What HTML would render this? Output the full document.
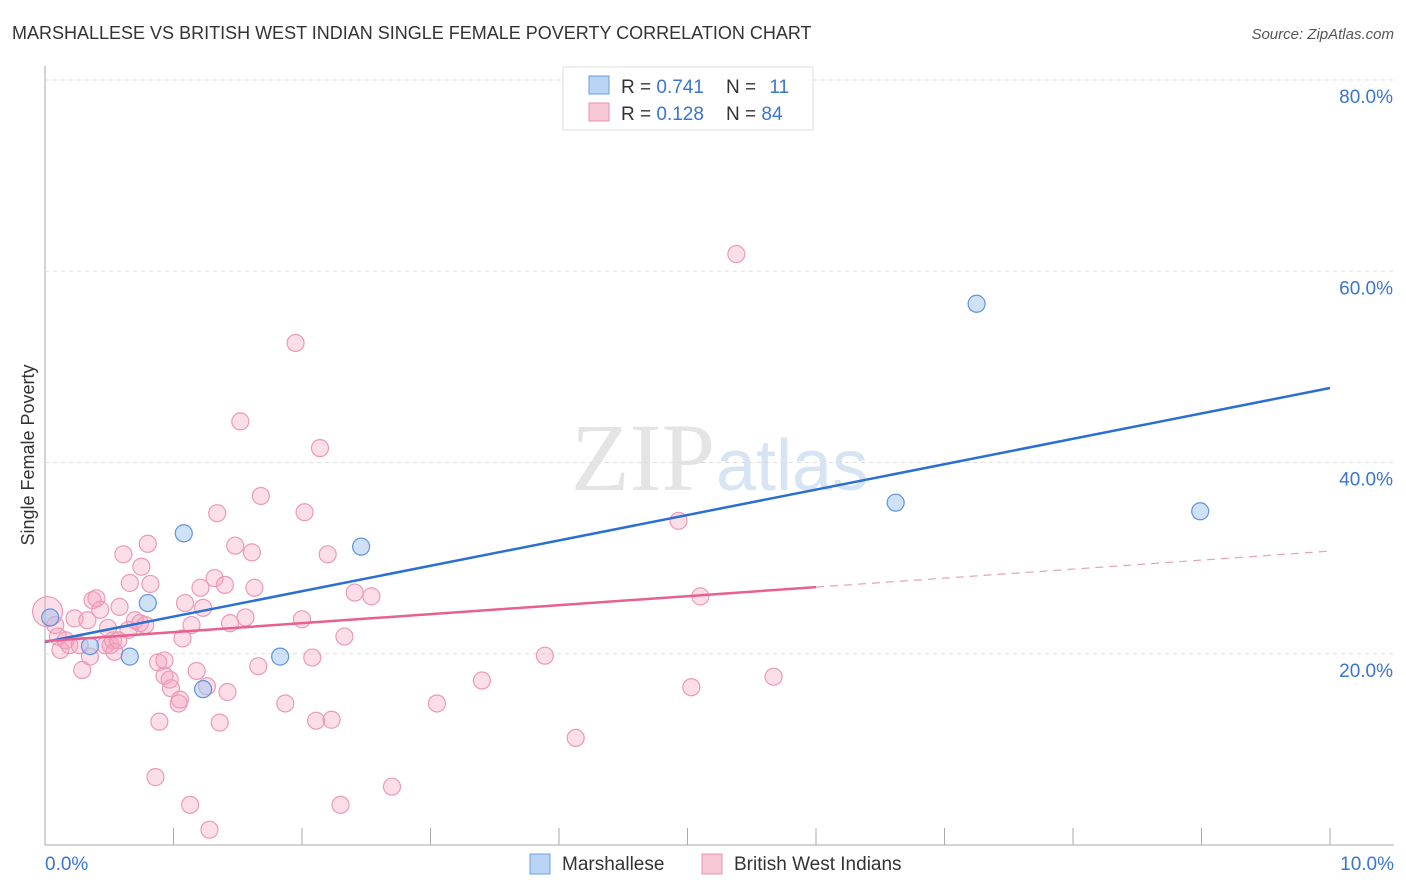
<!DOCTYPE html>
<html><head><meta charset="utf-8"><style>
body{margin:0;background:#fff;font-family:"Liberation Sans",sans-serif;}
svg{display:block}
</style></head><body>
<svg id="c" width="1406" height="892">
<text x="12" y="39" font-size="18" fill="#333">MARSHALLESE VS BRITISH WEST INDIAN SINGLE FEMALE POVERTY CORRELATION CHART</text>
<text x="1394" y="39" font-size="15" fill="#555" font-style="italic" text-anchor="end">Source: ZipAtlas.com</text>
<text x="715" y="490" font-size="96" font-family="Liberation Serif,serif" fill="#e4e4e4" text-anchor="end">ZIP</text>
<text x="716" y="490" font-size="72" fill="#d6e4f3">atlas</text>
<text transform="translate(34,455) rotate(-90)" font-size="18" fill="#333" text-anchor="middle">Single Female Poverty</text>
<g id="grid"></g><g id="pts"></g><g id="lines"></g>
<g>
<rect x="563" y="67" width="250" height="63" fill="#fff" stroke="#ddd"/>
<rect x="589" y="76" width="20" height="18" fill="#b9d4f4" stroke="#6a9be0"/>
<rect x="589" y="103" width="20" height="18" fill="#f8c7d6" stroke="#e890ad"/>
<text x="621" y="93" font-size="19" fill="#333">R = <tspan fill="#3a75d0">0.741</tspan></text>
<text x="726" y="93" font-size="19" fill="#333">N = <tspan fill="#3a75d0" dx="8">11</tspan></text>
<text x="621" y="120" font-size="19" fill="#333">R = <tspan fill="#3a75d0">0.128</tspan></text>
<text x="726" y="120" font-size="19" fill="#333">N = <tspan fill="#3a75d0">84</tspan></text>
</g>
<g>
<rect x="530" y="854" width="20" height="20" fill="#b9d4f4" stroke="#6a9be0"/>
<text x="562" y="870" font-size="19" fill="#333">Marshallese</text>
<rect x="702" y="854" width="20" height="20" fill="#f8c7d6" stroke="#e890ad"/>
<text x="734" y="870" font-size="19" fill="#333">British West Indians</text>
</g>
</svg>
<script>
const xTicks=[0,1,2,3,4,5,6,7,8,9,10];
const yTicks=[20,40,60,80];
const blueX=[0.04,0.35,0.66,0.8,1.08,1.23,1.83,2.46,6.62,7.25,8.99];
const blueY=[23.8,20.8,19.7,25.3,32.6,16.3,19.7,31.2,35.8,56.6,34.9];
const pinkX=[0.02,0.08,0.12,0.16,0.19,0.23,0.27,0.29,0.35,0.37,0.40,0.43,0.47,0.51,0.53,0.54,0.58,0.61,0.65,0.66,0.70,0.74,0.75,0.78,0.80,0.82,0.86,0.88,0.89,0.93,0.97,0.98,1.04,1.05,1.07,1.09,1.13,1.14,1.18,1.21,1.23,1.26,1.28,1.32,1.34,1.36,1.40,1.42,1.44,1.48,1.52,1.56,1.61,1.63,1.66,1.68,1.87,1.95,2.00,2.02,2.08,2.11,2.14,2.20,2.23,2.30,2.33,2.41,2.54,2.70,3.05,3.40,3.89,4.13,4.93,5.03,5.10,5.38,5.67,0.57,0.33,0.49,0.93,0.10];
const pinkY=[24.4,23.0,20.4,21.4,20.9,23.7,20.9,18.3,19.7,25.6,25.8,24.6,20.9,20.9,21.4,20.2,24.9,30.4,22.5,27.4,23.5,23.2,29.1,23.0,31.5,27.3,7.1,19.1,12.9,17.7,17.3,16.4,14.8,15.2,21.6,25.3,4.2,23.0,18.2,26.9,24.8,16.6,1.6,27.9,34.7,12.8,27.2,16.0,23.2,31.3,44.3,23.8,30.6,26.9,18.7,36.5,14.8,52.5,23.6,34.8,19.6,13.0,41.5,30.4,13.1,4.2,21.8,26.4,26.0,6.1,14.8,17.2,19.8,11.2,33.9,16.5,26.0,61.8,17.6,21.4,23.5,22.7,19.3,21.8];
const X0=45,X1=1330,Y0=845,Y80=80;
const sx=v=>X0+(X1-X0)*v/10, sy=v=>Y0-(Y0-Y80)*v/80;
const NS="http://www.w3.org/2000/svg";
function mk(p,t,a){const e=document.createElementNS(NS,t);for(const k in a)e.setAttribute(k,a[k]);p.appendChild(e);return e;}
const g=document.getElementById('grid');
mk(g,'line',{x1:X0,y1:66,x2:X0,y2:Y0,stroke:'#aaa'});
mk(g,'line',{x1:X0,y1:Y0,x2:1394,y2:Y0,stroke:'#aaa'});
yTicks.forEach(v=>{
 const l=mk(g,'line',{x1:X0,y1:sy(v),x2:1394,y2:sy(v),stroke:'#ddd','stroke-dasharray':'4,4'});
 
 const t=mk(g,'text',{x:1393,y:sy(v)+23,'font-size':19,fill:'#3a75d0','text-anchor':'end'});t.textContent=v+'.0%';
 
});
xTicks.forEach(v=>{const l=mk(g,'line',{x1:sx(v),y1:828,x2:sx(v),y2:Y0,stroke:'#aaa'});
 });
let t=mk(g,'text',{x:45,y:870,'font-size':19,fill:'#3a75d0'});t.textContent='0.0%';

t=mk(g,'text',{x:1394,y:870,'font-size':19,fill:'#3a75d0','text-anchor':'end'});t.textContent='10.0%';

const P=document.getElementById('pts');
pinkX.forEach((x,i)=>{const c=mk(P,'circle',{cx:sx(x),cy:sy(pinkY[i]),r:i==0?15:8.5,fill:'rgba(245,160,190,0.35)',stroke:'#eb9ab5','stroke-width':1.2});
 });
blueX.forEach((x,i)=>{const c=mk(P,'circle',{cx:sx(x),cy:sy(blueY[i]),r:8.5,fill:'rgba(160,195,240,0.5)',stroke:'#5f94dc','stroke-width':1.2});
 });
function fit(xs,ys){const n=xs.length;let mx=0,my=0;xs.forEach((x,i)=>{mx+=x;my+=ys[i]});mx/=n;my/=n;let a=0,b=0;xs.forEach((x,i)=>{a+=(x-mx)*(ys[i]-my);b+=(x-mx)**2});const s=a/b;return [my-s*mx,s];}
const L=document.getElementById('lines');
const [bi,bs]=fit(blueX,blueY);
let l=mk(L,'line',{x1:sx(0),y1:sy(bi),x2:sx(10),y2:sy(bi+bs*10),stroke:'#2a6fd4','stroke-width':2.5});

const [pi,ps]=fit(pinkX,pinkY);
l=mk(L,'line',{x1:sx(0),y1:sy(pi),x2:sx(6),y2:sy(pi+ps*6),stroke:'#e8608e','stroke-width':2.5});

l=mk(L,'line',{x1:sx(6),y1:sy(pi+ps*6),x2:sx(10),y2:sy(pi+ps*10),stroke:'#e8a0b8','stroke-width':1.2,'stroke-dasharray':'8,6'});

</script>
</body></html>
